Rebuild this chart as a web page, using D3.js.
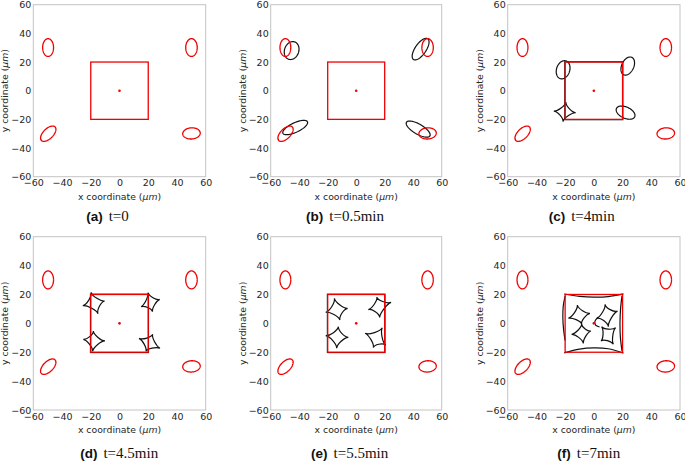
<!DOCTYPE html>
<html>
<head>
<meta charset="utf-8">
<script src="https://cdn.jsdelivr.net/npm/d3@7"></script>
<style>
  html, body { margin: 0; padding: 0; background: #fff; }
  svg { display: block; }
</style>
</head>
<body>
<script>
// ---------- data ----------
const panelIds = ["a", "b", "c", "d", "e", "f"];
const captionTimes = ["t=0", "t=0.5min", "t=4min", "t=4.5min", "t=5.5min", "t=7min"];
const tickValues = [-60, -40, -20, 0, 20, 40, 60];
const domainRange = [-60, 60];

// red target ellipses [cx, cy, a, b, angleDeg]
const redEllipses = [
  [-49.7, 30.1, 3.8, 6.2, 0],
  [50.1, 30.1, 4.0, 6.2, 0],
  [-49.6, -30.0, 6.7, 3.5, 45],
  [50.1, -29.8, 6.1, 3.9, 4]
];
const redSquare = [-20, 20];
const redCenter = [0, 0];

// black cell ellipses [cx, cy, a, b, angleDeg]
const blackEllipsesB = [
  [-45.3, 28.0, 6.4, 5.0, 70],
  [45.2, 29.0, 8.8, 3.8, 55],
  [-42.8, -25.7, 9.5, 3.3, 25],
  [43.5, -26.8, 9.5, 3.5, -30]
];
const blackEllipsesC = [
  [-21.4, 14.6, 6.5, 4.6, 72],
  [23.6, 17.2, 6.7, 4.2, 65],
  [22.1, -15.3, 7.0, 3.9, -25]
];

// black deformed cells: four cusp points each
const astroidsC = [
  [[-19.4, -8.0], [-12.6, -15.4], [-21.5, -21.6], [-27.9, -14.2]]
];
const astroidsD = [
  [[-19.8, 21.5], [-10.3, 15.5], [-15.0, 6.7], [-25.6, 12.2]],
  [[19.8, 21.2], [28.0, 16.6], [23.0, 8.1], [15.0, 11.5]],
  [[-18.2, -5.3], [-10.1, -12.2], [-18.7, -19.4], [-25.2, -11.1]],
  [[23.1, -7.6], [28.2, -17.3], [18.4, -19.4], [13.6, -10.4]]
];
const astroidsE = [
  [[-15.3, 17.3], [-6.0, 10.4], [-11.4, 2.3], [-21.4, 7.6]],
  [[14.5, 18.2], [24.5, 14.5], [16.5, 4.0], [8.5, 9.5]],
  [[-12.5, -2.3], [-5.5, -9.7], [-13.7, -17.3], [-21.4, -8.5]],
  [[18.3, -3.0], [20.7, -15.0], [12.0, -16.8], [6.2, -6.9]]
];
const astroidsF = [
  [[-11.5, 12.7], [-2.7, 6.9], [-8.5, -0.5], [-17.8, 3.5]],
  [[-8.5, -0.5], [-2.0, -5.3], [-7.3, -13.9], [-15.5, -7.6]],
  [[7.8, 13.2], [16.5, 8.5], [10.1, -2.3], [2.0, 3.5]],
  [[5.4, -2.3], [15.2, -3.0], [13.6, -14.5], [5.0, -12.2]]
];
// cell boundary (black) near the square
const blackSquareCDE = [-20.2, 20.15];
const boundaryF = [
  [[-20.6, 20.3], [-10, 18.7], [0, 18.1], [10, 18.5], [20.6, 20.4]],
  [[-20.6, -20.4], [-10, -17.8], [0, -17.0], [10, -17.6], [20.6, -20.6]],
  [[-20.0, 19.0], [-21.3, 12.0], [-21.6, 4.0], [-21.1, -4.0], [-20.0, -12.0]],
  [[19.6, 19.0], [18.6, 10.0], [18.2, 0.0], [18.5, -10.0], [19.6, -19.0]],
  [[3.0, 4.2], [0.8, 1.5], [1.2, -1.2], [4.0, -2.5]]
];

// ---------- layout ----------
const W = 685, H = 462;
const colX = [[33.3, 205.7], [270.7, 441.7], [507.7, 680]];
const rowY = [[4.7, 176.7], [236.7, 410]];
const captionX = [107.5, 345, 581.7, 119.2, 349.7, 588.8];
const captionY = [220.5, 457.5];
const RED = "#f00000";

const svg = d3.select("body").append("svg")
  .attr("width", W).attr("height", H)
  .style("font-family", "'DejaVu Sans', sans-serif");
svg.append("rect").attr("width", W).attr("height", H).attr("fill", "#fff");

function ellipsePoints(e) {
  const [cx, cy, a, b, ang] = e;
  const r = ang * Math.PI / 180;
  return d3.range(0, 97).map(i => {
    const t = i / 96 * 2 * Math.PI;
    const ex = a * Math.cos(t), ey = b * Math.sin(t);
    return [cx + ex * Math.cos(r) - ey * Math.sin(r), cy + ex * Math.sin(r) + ey * Math.cos(r)];
  });
}

function astroidPath(cusps, x, y) {
  const c = [d3.mean(cusps, p => p[0]), d3.mean(cusps, p => p[1])];
  const k = 0.35;
  const P = p => [x(p[0]), y(p[1])];
  const path = d3.path();
  const p0 = P(cusps[0]);
  path.moveTo(p0[0], p0[1]);
  for (let i = 0; i < cusps.length; i++) {
    const A = cusps[i], B = cusps[(i + 1) % cusps.length];
    const c1 = P([A[0] + k * (c[0] - A[0]), A[1] + k * (c[1] - A[1])]);
    const c2 = P([B[0] + k * (c[0] - B[0]), B[1] + k * (c[1] - B[1])]);
    const pb = P(B);
    path.bezierCurveTo(c1[0], c1[1], c2[0], c2[1], pb[0], pb[1]);
  }
  path.closePath();
  return path.toString();
}

panelIds.forEach((id, i) => {
  const col = i % 3, row = Math.floor(i / 3);
  const [x0, x1] = colX[col];
  const [y0, y1] = rowY[row];
  const x = d3.scaleLinear().domain(domainRange).range([x0, x1]);
  const y = d3.scaleLinear().domain(domainRange).range([y1, y0]);
  const g = svg.append("g");

  // frame
  g.append("rect").attr("x", x0).attr("y", y0).attr("width", x1 - x0).attr("height", y1 - y0)
    .attr("fill", "none").attr("stroke", "#c4c4c4").attr("stroke-width", 1);

  // axes
  const ax = g.append("g").attr("transform", `translate(0,${y1})`)
    .call(d3.axisBottom(x).tickValues(tickValues).tickSize(0).tickPadding(3)
      .tickFormat(d => d < 0 ? "\u2212" + Math.abs(d) : d));
  const ay = g.append("g").attr("transform", `translate(${x0},0)`)
    .call(d3.axisLeft(y).tickValues(tickValues).tickSize(0).tickPadding(2)
      .tickFormat(d => d < 0 ? "\u2212" + Math.abs(d) : d));
  [ax, ay].forEach(a => {
    a.select(".domain").remove();
    a.selectAll("text").attr("font-size", 9.5).attr("fill", "#262626")
      .attr("font-family", "'DejaVu Sans', sans-serif");
  });

  // axis labels
  const xl = g.append("text").attr("x", (x0 + x1) / 2).attr("y", y1 + 23)
    .attr("text-anchor", "middle").attr("font-size", 9.3).attr("fill", "#262626");
  xl.append("tspan").text("x coordinate (");
  xl.append("tspan").attr("font-style", "italic").text("\u03bcm");
  xl.append("tspan").text(")");
  const yl = g.append("text")
    .attr("transform", `translate(${x0 - 25},${(y0 + y1) / 2}) rotate(-90)`)
    .attr("text-anchor", "middle").attr("font-size", 9.3).attr("fill", "#262626");
  yl.append("tspan").text("y coordinate (");
  yl.append("tspan").attr("font-style", "italic").text("\u03bcm");
  yl.append("tspan").text(")");

  const line = d3.line().x(d => x(d[0])).y(d => y(d[1]));
  const smooth = d3.line().x(d => x(d[0])).y(d => y(d[1])).curve(d3.curveCatmullRom);
  const marks = g.append("g");

  // black cell shapes
  const blackStyle = s => s.attr("fill", "none").attr("stroke", "#111").attr("stroke-width", 1.2);
  let ells = [], asts = [];
  if (id === "b") ells = blackEllipsesB;
  if (id === "c") { ells = blackEllipsesC; asts = astroidsC; }
  if (id === "d") asts = astroidsD;
  if (id === "e") asts = astroidsE;
  if (id === "f") asts = astroidsF;

  if (id === "c" || id === "d" || id === "e") {
    marks.append("rect")
      .attr("x", x(blackSquareCDE[0])).attr("y", y(blackSquareCDE[1]))
      .attr("width", x(blackSquareCDE[1]) - x(blackSquareCDE[0]))
      .attr("height", y(blackSquareCDE[0]) - y(blackSquareCDE[1]))
      .call(blackStyle);
  }
  if (id === "f") {
    boundaryF.forEach(b => marks.append("path").attr("d", smooth(b)).call(blackStyle));
  }
  ells.forEach(e => marks.append("path").attr("d", line(ellipsePoints(e))).call(blackStyle));
  asts.forEach(a => marks.append("path").attr("d", astroidPath(a, x, y)).call(blackStyle));

  // red target geometry
  redEllipses.forEach(e => marks.append("path").attr("d", line(ellipsePoints(e)))
    .attr("fill", "none").attr("stroke", RED).attr("stroke-width", 1.3));
  marks.append("rect")
    .attr("x", x(redSquare[0])).attr("y", y(redSquare[1]))
    .attr("width", x(redSquare[1]) - x(redSquare[0]))
    .attr("height", y(redSquare[0]) - y(redSquare[1]))
    .attr("fill", "none").attr("stroke", RED).attr("stroke-width", 1.3);
  marks.append("circle").attr("cx", x(redCenter[0])).attr("cy", y(redCenter[1]))
    .attr("r", 1.3).attr("fill", RED);

  // caption
  const cap = svg.append("text").attr("x", captionX[i]).attr("y", captionY[row])
    .attr("text-anchor", "middle").attr("fill", "#111");
  cap.append("tspan").attr("font-family", "'Liberation Sans', Arial, sans-serif")
    .attr("font-weight", "bold").attr("font-size", 13.5).text(`(${id})`);
  cap.append("tspan").attr("dx", 6).attr("font-family", "'Liberation Serif', serif")
    .attr("font-size", 15).text(captionTimes[i]);
});
</script>
</body>
</html>
